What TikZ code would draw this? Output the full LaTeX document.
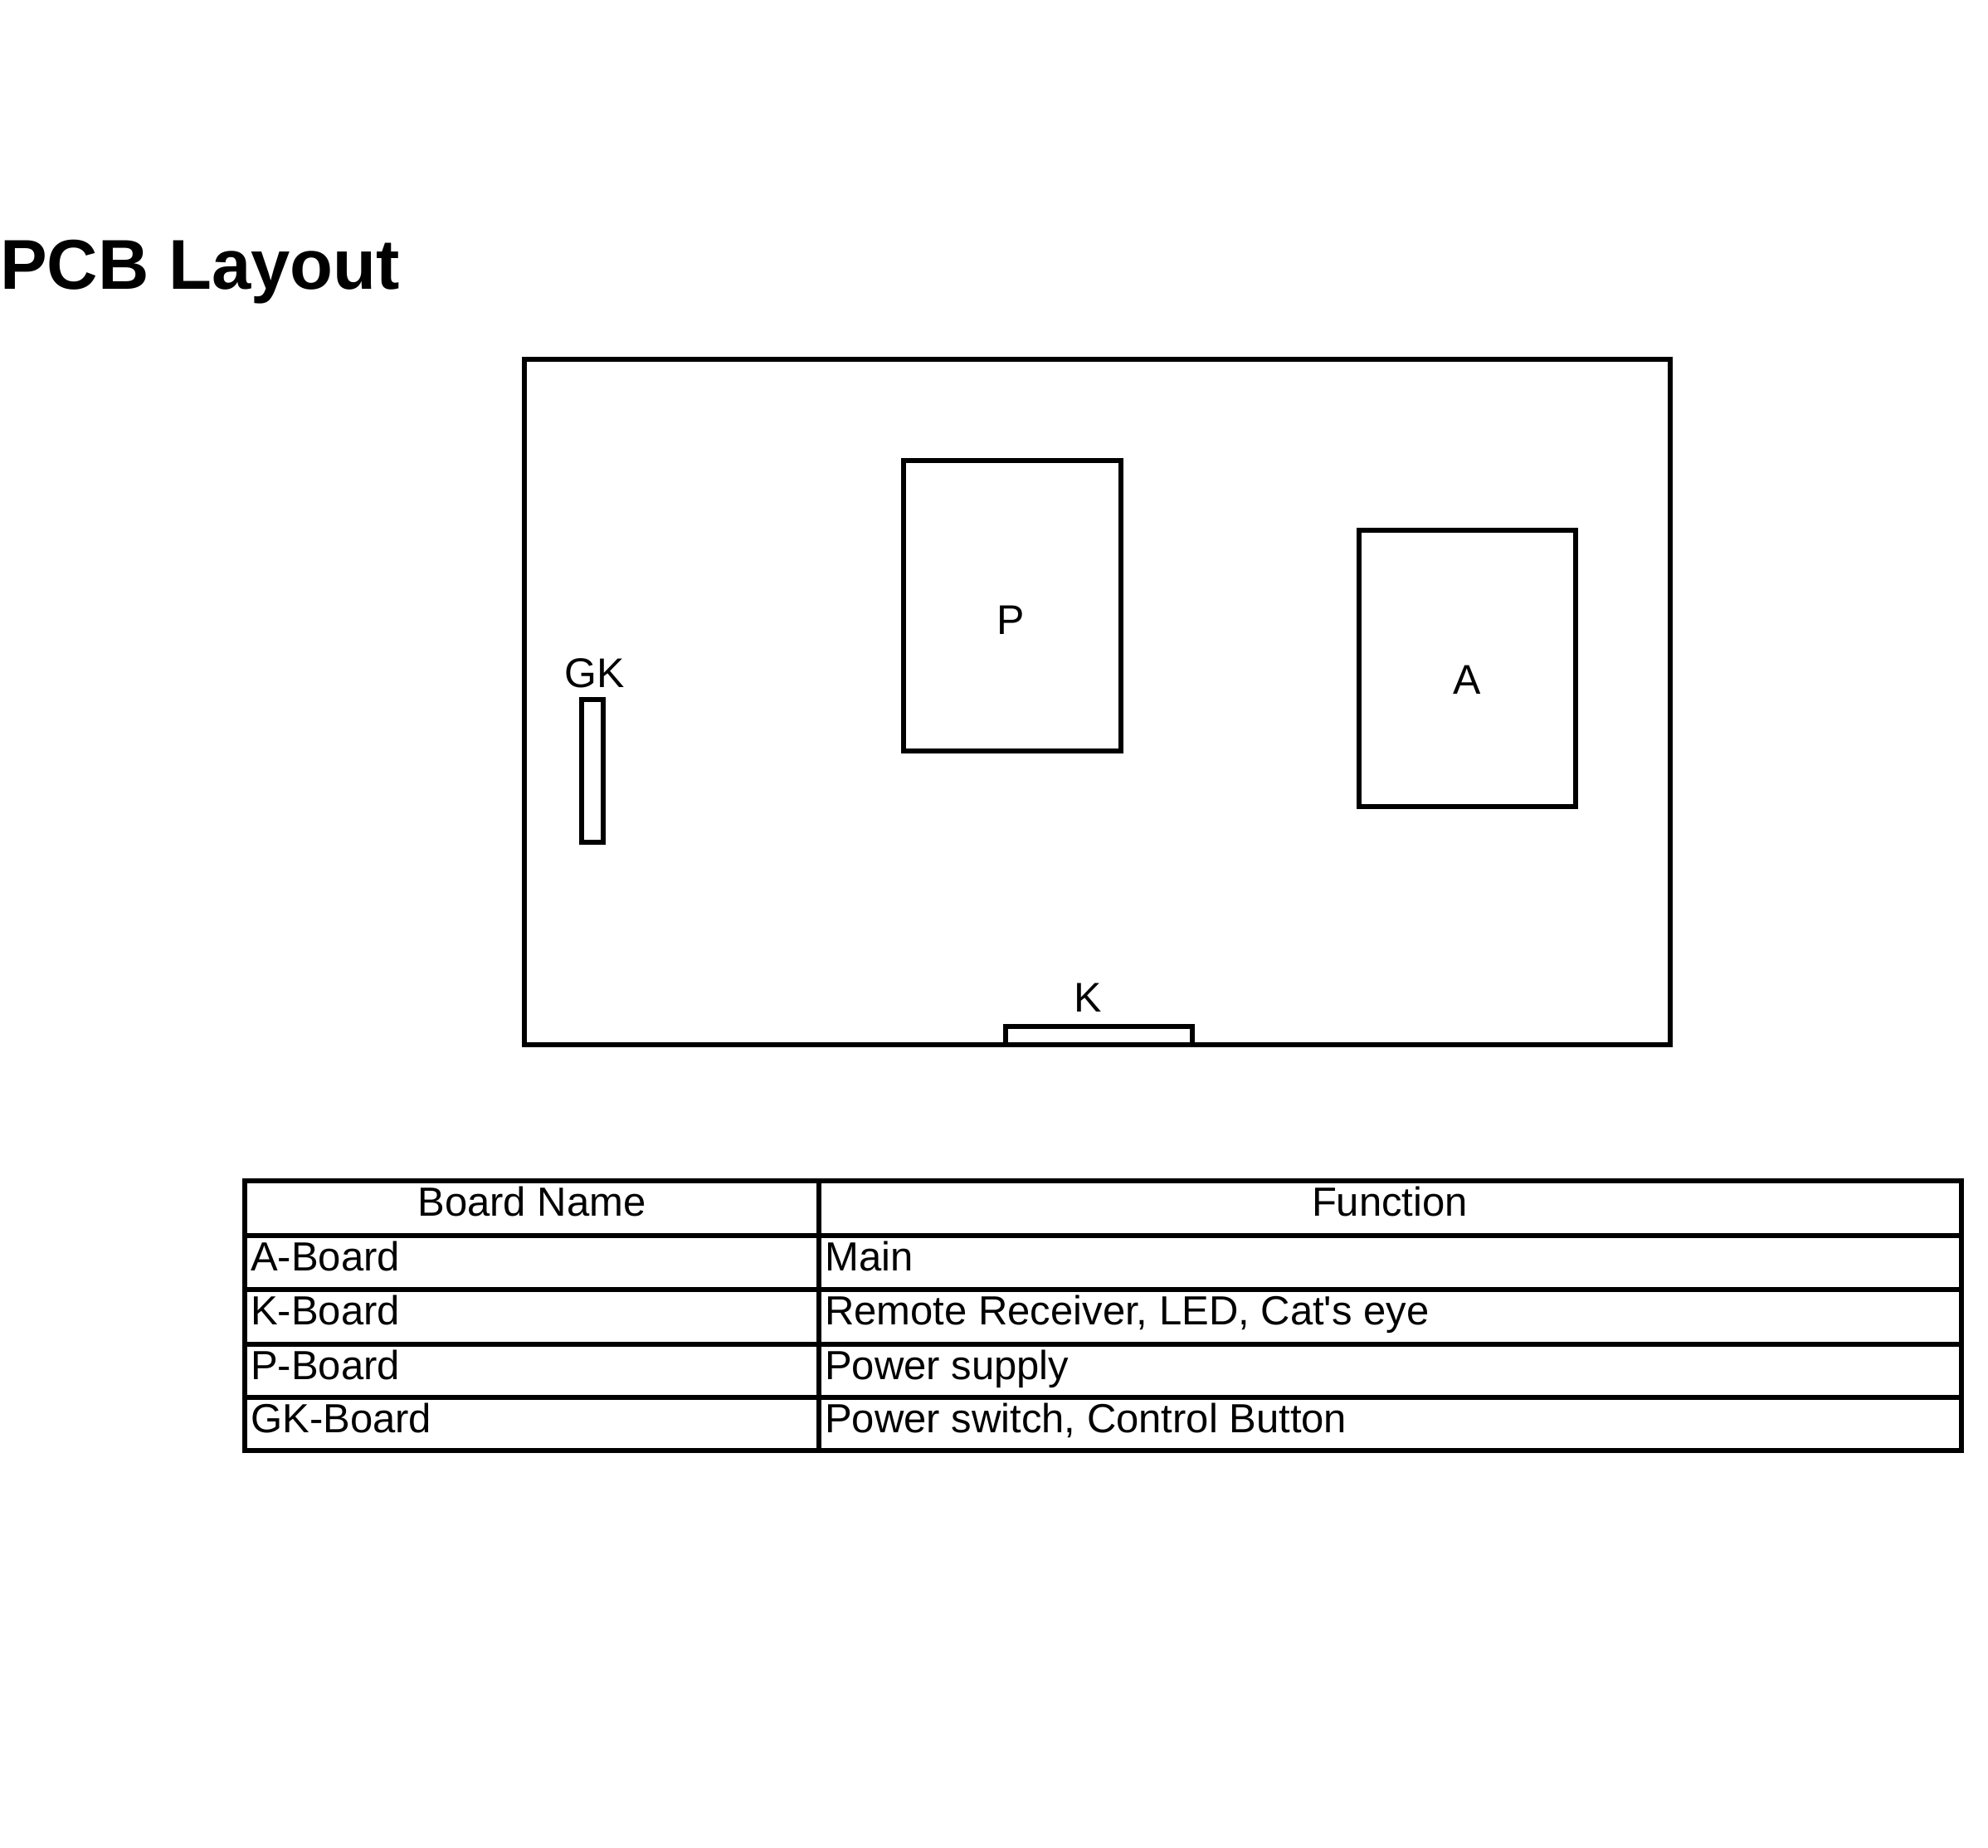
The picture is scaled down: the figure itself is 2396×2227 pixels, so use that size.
\documentclass[tikz,border=0pt]{standalone}
\usepackage{fontspec}
\setmainfont{Liberation Sans}
\begin{document}
\begin{tikzpicture}[x=1pt,y=-1pt,
  outline/.style={draw=black,line width=6pt,inner sep=0pt,outer sep=0pt},
  lbl/.style={inner sep=0pt,font=\fontsize{50}{60}\selectfont},
  cell/.style={inner sep=0pt,anchor=base west,font=\fontsize{49}{58}\selectfont},
  head/.style={inner sep=0pt,anchor=base,font=\fontsize{49}{58}\selectfont},
  rule/.style={line width=5.5pt,line cap=rect}]
\useasboundingbox[fill=white] (0,0) rectangle (2396,2227);
% title
\node[inner sep=0pt,anchor=base west,font=\fontsize{85}{100}\selectfont\bfseries] (title) at (0,348) {PCB Layout};
% boards
\node[outline,minimum width=1381pt,minimum height=826pt] (board) at (1322.5,846) {};
\node[outline,minimum width=262pt,minimum height=350pt] (P) at (1220,730) {};
\node[outline,minimum width=261pt,minimum height=333pt] (A) at (1768.5,805.5) {};
\node[outline,minimum width=26pt,minimum height=172pt] (GK) at (714,929) {};
\node[outline,minimum width=225pt,minimum height=22pt] (K) at (1324.5,1248) {};
\node[lbl] (Plbl) at (1218,747) {P};
\node[lbl] (Albl) at (1768,819) {A};
\node[lbl] (GKlbl) at (717,811) {GK};
\node[lbl] (Klbl) at (1311,1202) {K};
% table grid
\coordinate (t1) at (295,1423);
\coordinate (t2) at (2364,1748);
\draw[rule] (t1) rectangle (t2);
\draw[rule] (987,1423) -- (987,1748);
\foreach \yy in {1489,1554,1620,1684} {
  \draw[rule] (295,\yy) -- (2364,\yy);
}
% table text
\node[head] (h1) at (641,1465) {Board Name};
\node[head] (h2) at (1675,1465) {Function};
\node[cell] (a1) at (302,1531) {A-Board};
\node[cell] (k1) at (302,1596) {K-Board};
\node[cell] (p1) at (302,1662) {P-Board};
\node[cell] (g1) at (302,1726) {GK-Board};
\node[cell] (a2) at (994,1531) {Main};
\node[cell] (k2) at (994,1596) {Remote Receiver, LED, Cat\textquotesingle s eye};
\node[cell] (p2) at (994,1662) {Power supply};
\node[cell] (g2) at (994,1726) {Power switch, Control Button};
\end{tikzpicture}
\end{document}
